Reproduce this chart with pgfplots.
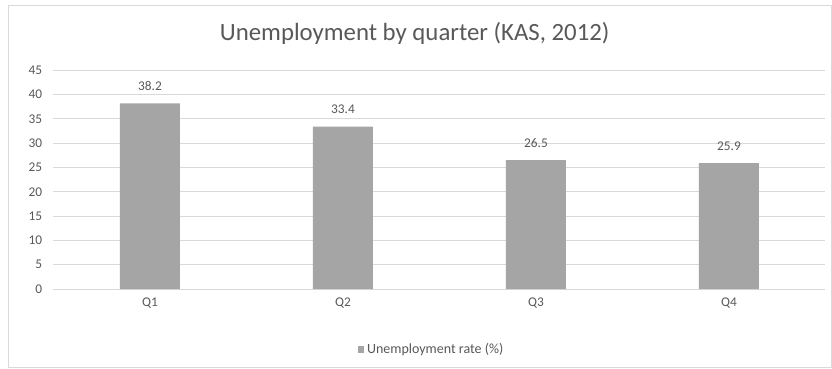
\documentclass[border=0pt]{standalone}
\usepackage{pgfplots}
\pgfplotsset{compat=1.18}
\usepackage{fontspec}
\setmainfont{Carlito}
\definecolor{barc}{HTML}{A5A5A5}
\definecolor{txt}{HTML}{595959}
\definecolor{gridc}{HTML}{D9D9D9}
\begin{document}
\begin{tikzpicture}
\fill[white] (0,0) rectangle (624pt,-276pt);
\draw[gridc, line width=0.75pt] (6pt,-3.75pt) rectangle (623.6pt,-275.6pt);
\node[txt, font=\fontsize{18.6}{20}\selectfont] at (311pt,-24.75pt) {Unemployment by quarter (KAS, 2012)};
\begin{axis}[
  at={(40.1pt,-216.75pt)}, anchor=south west,
  scale only axis, width=579pt, height=164pt,
  xmin=-0.5, xmax=3.5, ymin=0, ymax=45,
  ytick={0,5,...,45},
  xtick={0,1,2,3}, xticklabels={Q1,Q2,Q3,Q4},
  axis line style={draw=none},
  ymajorgrids, xmajorgrids=false, grid style={draw=gridc, line width=0.75pt},
  major tick length=0pt,
  tick label style={text=txt, font=\fontsize{10}{12}\selectfont},
  /pgf/number format/assume math mode=true,
  yticklabel style={xshift=-5pt},
  xticklabel style={yshift=-3pt},
  nodes near coords={\pgfmathprintnumber[fixed, precision=1, fixed zerofill]{\pgfplotspointmeta}},
  every node near coord/.append style={text=txt, font=\fontsize{10}{12}\selectfont, yshift=6pt},
  legend style={at={(0.49,-0.275)}, anchor=center, draw=none, font=\fontsize{10.5}{12}\selectfont, text=txt, legend cell align=left},
  legend image code/.code={\fill[barc] (0cm,-0.09cm) rectangle (0.18cm,0.09cm);},
]
\addplot[ybar, bar width=45pt, fill=barc, draw=none] coordinates {(0,38.2) (1,33.4) (2,26.5) (3,25.9)};
\addlegendentry{Unemployment rate (\%)}
\end{axis}
\end{tikzpicture}
\end{document}
